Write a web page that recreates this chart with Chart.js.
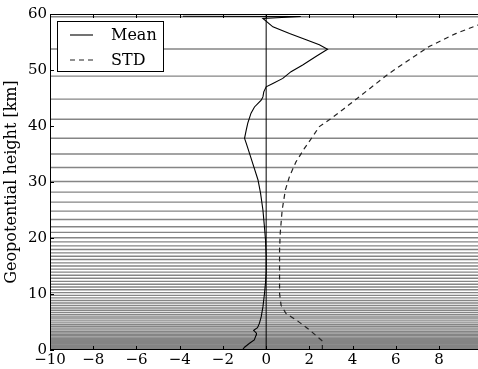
<!DOCTYPE html>
<html>
<head>
<meta charset="utf-8">
<script src="https://cdn.jsdelivr.net/npm/chart.js@4/dist/chart.umd.min.js"></script>
<style>
  html, body { margin: 0; padding: 0; background: #fff; }
  #wrap { width: 478px; height: 369px; }
</style>
</head>
<body>
<div id="wrap"><canvas id="c" width="478" height="369"></canvas></div>
<script>
// ---- data ----
const xTickValues = [-10, -8, -6, -4, -2, 0, 2, 4, 6, 8];
const yTickValues = [0, 10, 20, 30, 40, 50, 60];

const levelHeights = [59.5, 53.75, 48.9, 44.8, 41.2, 37.8, 35.0, 32.6, 30.1, 28.2, 26.4, 24.8,
  23.3, 22.0, 21.0, 20.05, 19.3, 18.6, 17.95, 17.35, 16.75, 16.15, 15.55, 15.0, 14.45, 13.9,
  13.35, 12.8, 12.25, 11.75, 11.25, 10.75, 10.25, 9.75, 9.3, 8.85, 8.4, 7.95, 7.5, 7.1, 6.7,
  6.3, 5.9, 5.55, 5.2, 4.85, 4.5, 4.2, 3.9, 3.6, 3.3, 3.05, 2.8, 2.55, 2.3, 2.1, 1.9, 1.7,
  1.5, 1.35, 1.2, 1.05, 0.9, 0.78, 0.66, 0.55, 0.45, 0.36, 0.28, 0.2, 0.13, 0.07, 0.02];

const meanHeights = [0.0, 0.5, 1.2, 1.8, 2.7, 3.0, 3.5, 4.0, 4.8, 5.9, 7.7, 10, 12, 14, 16.7,
  19.6, 22.0, 25, 28, 30.4, 32.7, 35.1, 36.9, 37.8, 39.3, 40.5, 42.3, 43.4, 44.6, 45.2, 46.1,
  47.0, 47.6, 48.5, 49.7, 50.9, 52.4, 53.7, 54.5, 55.4, 56.5, 57.7, 59.2, 59.55, 59.6];
const meanValues = [-1.1, -1.0, -0.77, -0.55, -0.46, -0.45, -0.58, -0.4, -0.31, -0.23, -0.15,
  -0.08, -0.03, 0.0, 0.0, -0.03, -0.08, -0.15, -0.26, -0.38, -0.57, -0.77, -0.92, -1.0, -0.92,
  -0.85, -0.7, -0.54, -0.23, -0.15, -0.11, 0.0, 0.31, 0.77, 1.15, 1.69, 2.3, 2.84, 2.46, 1.85,
  1.08, 0.31, -0.15, 1.6, -3.85];

const stdHeights = [0, 1.6, 3.6, 5.4, 6.5, 8.0, 10.1, 14, 17.9, 20.8, 25, 28.6, 31.0, 33.6,
  36.0, 38.1, 39.9, 41.1, 42.9, 44.6, 49.4, 54.2, 56.5, 58.0, 59.5];
const stdValues = [2.6, 2.6, 2.0, 1.38, 0.92, 0.69, 0.62, 0.62, 0.62, 0.65, 0.74, 0.89, 1.08,
  1.38, 1.77, 2.15, 2.46, 2.92, 3.54, 4.1, 5.69, 7.54, 8.77, 9.77, 11.2];

const xMin = -10, xMax = 9.8, yMin = 0, yMax = 60;
const FONT = 'DejaVu Serif';

// ---- datasets ----
const datasets = [];
levelHeights.forEach(h => {
  datasets.push({
    label: '', isLevel: true,
    data: [{x: xMin, y: h}, {x: xMax, y: h}],
    borderColor: '#858585', borderWidth: 1.4, pointRadius: 0, order: 4
  });
});
datasets.push({
  label: '', data: [{x: 0, y: yMin}, {x: 0, y: yMax}],
  borderColor: '#000', borderWidth: 1, pointRadius: 0, order: 3
});
datasets.push({
  label: 'STD', inLegend: true,
  data: stdHeights.map((h, i) => ({x: stdValues[i], y: h})),
  borderColor: '#222', borderWidth: 1.2, borderDash: [5, 4], pointRadius: 0, order: 1
});
datasets.push({
  label: 'Mean', inLegend: true,
  data: meanHeights.map((h, i) => ({x: meanValues[i], y: h})),
  borderColor: '#000', borderWidth: 1.1, pointRadius: 0, order: 0
});

const framePlugin = {
  id: 'frame',
  afterDraw(chart) {
    const {ctx, chartArea: a, scales: {x, y}} = chart;
    ctx.save();
    ctx.strokeStyle = '#000';
    ctx.lineWidth = 1;
    ctx.beginPath();
    ctx.moveTo(a.left + 0.5, a.bottom);
    ctx.lineTo(a.left + 0.5, a.top + 0.5);
    ctx.lineTo(a.right, a.top + 0.5);
    ctx.moveTo(a.left, a.bottom - 0.5);
    ctx.lineTo(a.right, a.bottom - 0.5);
    xTickValues.forEach(v => {
      const px = Math.round(x.getPixelForValue(v)) + 0.5;
      ctx.moveTo(px, a.bottom); ctx.lineTo(px, a.bottom - 4);
      ctx.moveTo(px, a.top); ctx.lineTo(px, a.top + 4);
    });
    yTickValues.forEach(v => {
      const py = Math.round(y.getPixelForValue(v)) + 0.5;
      ctx.moveTo(a.left, py); ctx.lineTo(a.left + 4, py);
    });
    ctx.stroke();

    // legend box
    const bx = a.left + 7.5, by = a.top + 7.5, bw = 106, bh = 50;
    ctx.fillStyle = '#fff';
    ctx.fillRect(bx, by, bw, bh);
    ctx.strokeRect(bx, by, bw, bh);
    const items = ['Mean', 'STD'].map(l => chart.data.datasets.find(d => d.label === l));
    items.forEach((d, i) => {
      const ly = a.top + 21 + i * 25;
      ctx.save();
      ctx.strokeStyle = d.borderColor;
      ctx.lineWidth = d.borderWidth;
      ctx.setLineDash(d.borderDash || []);
      ctx.beginPath();
      ctx.moveTo(a.left + 20, ly);
      ctx.lineTo(a.left + 43, ly);
      ctx.stroke();
      ctx.restore();
      ctx.fillStyle = '#000';
      ctx.font = '16px "' + FONT + '"';
      ctx.textBaseline = 'middle';
      ctx.textAlign = 'left';
      ctx.fillText(d.label, a.left + 61, ly + 1);
    });
    ctx.restore();
  }
};

new Chart(document.getElementById('c'), {
  type: 'line',
  data: { datasets },
  options: {
    responsive: false,
    animation: false,
    events: [],
    layout: { padding: { top: 14, left: 0, right: 0, bottom: 0 } },
    plugins: { legend: { display: false }, tooltip: { enabled: false } },
    scales: {
      x: {
        type: 'linear', min: xMin, max: xMax,
        afterBuildTicks: s => { s.ticks = xTickValues.map(v => ({value: v})); },
        afterFit: s => { s.height = 19; },
        ticks: {
          autoSkip: false, maxRotation: 0, padding: 1, color: '#000',
          font: { family: FONT, size: 15 },
          callback: v => String(v).replace('-', '\u2212')
        },
        grid: { display: true, drawOnChartArea: false, drawTicks: false },
        border: { display: false }
      },
      y: {
        type: 'linear', min: yMin, max: yMax,
        afterBuildTicks: s => { s.ticks = yTickValues.map(v => ({value: v})); },
        afterFit: s => { s.width = 50; },
        ticks: {
          autoSkip: false, padding: 3, color: '#000',
          font: { family: FONT, size: 15 },
          callback: v => String(v)
        },
        grid: { display: true, drawOnChartArea: false, drawTicks: false },
        border: { display: false },
        title: {
          display: true, text: 'Geopotential height [km]', color: '#000',
          font: { family: FONT, size: 16 }, padding: { top: 2, bottom: 0 }
        }
      }
    }
  },
  plugins: [framePlugin]
});
</script>
</body>
</html>
